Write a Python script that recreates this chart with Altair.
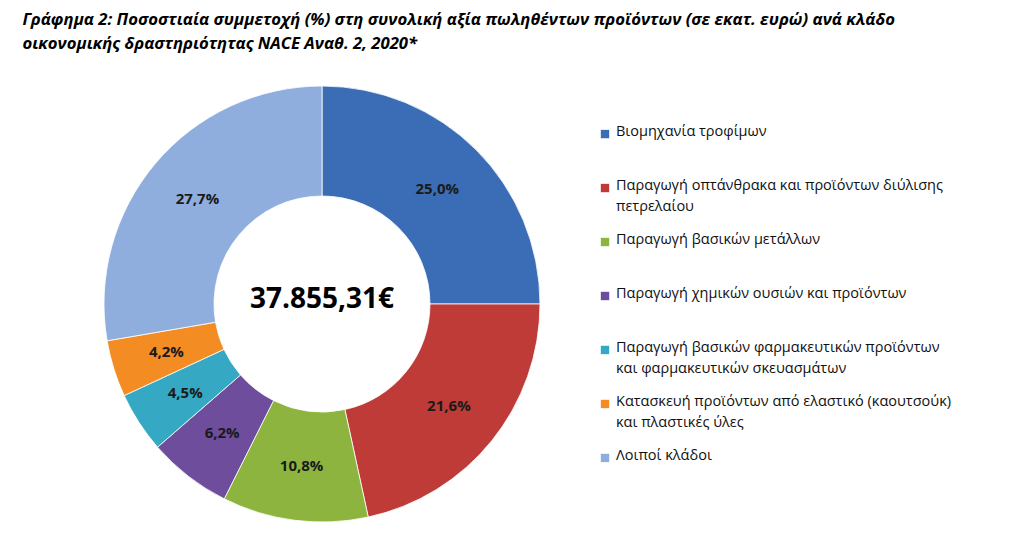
import altair as alt
import pandas as pd

categories = [
    "Βιομηχανία τροφίμων",
    "Παραγωγή οπτάνθρακα και προϊόντων διύλισης\nπετρελαίου",
    "Παραγωγή βασικών μετάλλων",
    "Παραγωγή χημικών ουσιών και προϊόντων",
    "Παραγωγή βασικών φαρμακευτικών προϊόντων\nκαι φαρμακευτικών σκευασμάτων",
    "Κατασκευή προϊόντων από ελαστικό (καουτσούκ)\nκαι πλαστικές ύλες",
    "Λοιποί κλάδοι",
]
values = [25.0, 21.6, 10.8, 6.2, 4.5, 4.2, 27.7]
labels = ["25,0%", "21,6%", "10,8%", "6,2%", "4,5%", "4,2%", "27,7%"]
colors = ["#3A6DB5", "#BE3B38", "#8DB43E", "#6E4E9C", "#35A8C4", "#F48C24", "#8FAEDE"]
center_text = ["37.855,31€"]
title_lines = [
    "Γράφημα 2: Ποσοστιαία συμμετοχή (%) στη συνολική αξία πωληθέντων προϊόντων (σε εκατ. ευρώ) ανά κλάδο",
    "οικονομικής δραστηριότητας NACE Αναθ. 2, 2020*",
]

df = pd.DataFrame({
    "cat": categories,
    "value": values,
    "label": labels,
    "idx": list(range(len(categories))),
})

color_scale = alt.Scale(domain=categories, range=colors)

base = alt.Chart(df).encode(
    theta=alt.Theta("value:Q", stack=True),
    order=alt.Order("idx:Q"),
    color=alt.Color("cat:N", scale=color_scale, legend=None),
)

arcs = base.mark_arc(innerRadius=108, outerRadius=218, stroke="#ffffff", strokeWidth=0.8)
pct = base.mark_text(radius=163, fontSize=15, fontWeight="bold", font="Open Sans").encode(
    text="label:N", color=alt.value("#1a1a1a")
)
center = alt.Chart(pd.DataFrame({"t": center_text})).mark_text(
    fontSize=28, fontWeight="bold", font="Open Sans", color="#000000", dy=-4
).encode(text="t:N")

donut = alt.layer(arcs, pct, center).properties(width=436, height=436)

leg_base = alt.Chart(df).encode(
    y=alt.Y("cat:N", sort=categories, axis=None,
            scale=alt.Scale(type="point", padding=0.89)),
)
leg_sq = leg_base.mark_point(shape="square", filled=True, size=70, opacity=1).encode(
    x=alt.value(2),
    color=alt.Color("cat:N", scale=color_scale, legend=None),
)
leg_txt = leg_base.mark_text(
    align="left", baseline="top", dy=-9, fontSize=14.5, font="Open Sans",
    lineBreak="\n", lineHeight=21, color="#111111"
).encode(x=alt.value(13), text="cat:N")
legend = alt.layer(leg_sq, leg_txt).properties(width=400, height=420)

chart = alt.hconcat(donut, legend, spacing=58).properties(
    title=alt.TitleParams(
        text=title_lines, anchor="start", fontSize=16.7, fontStyle="italic",
        fontWeight="bold", font="Open Sans", lineHeight=24, dx=-80, offset=32,
        baseline="top", color="#000000",
    ),
    padding={"left": 14, "top": 3, "right": 0, "bottom": 0},
).configure(background="#ffffff").configure_view(stroke=None)

chart.save("out.html", embed_options={"renderer": "svg", "actions": False})
